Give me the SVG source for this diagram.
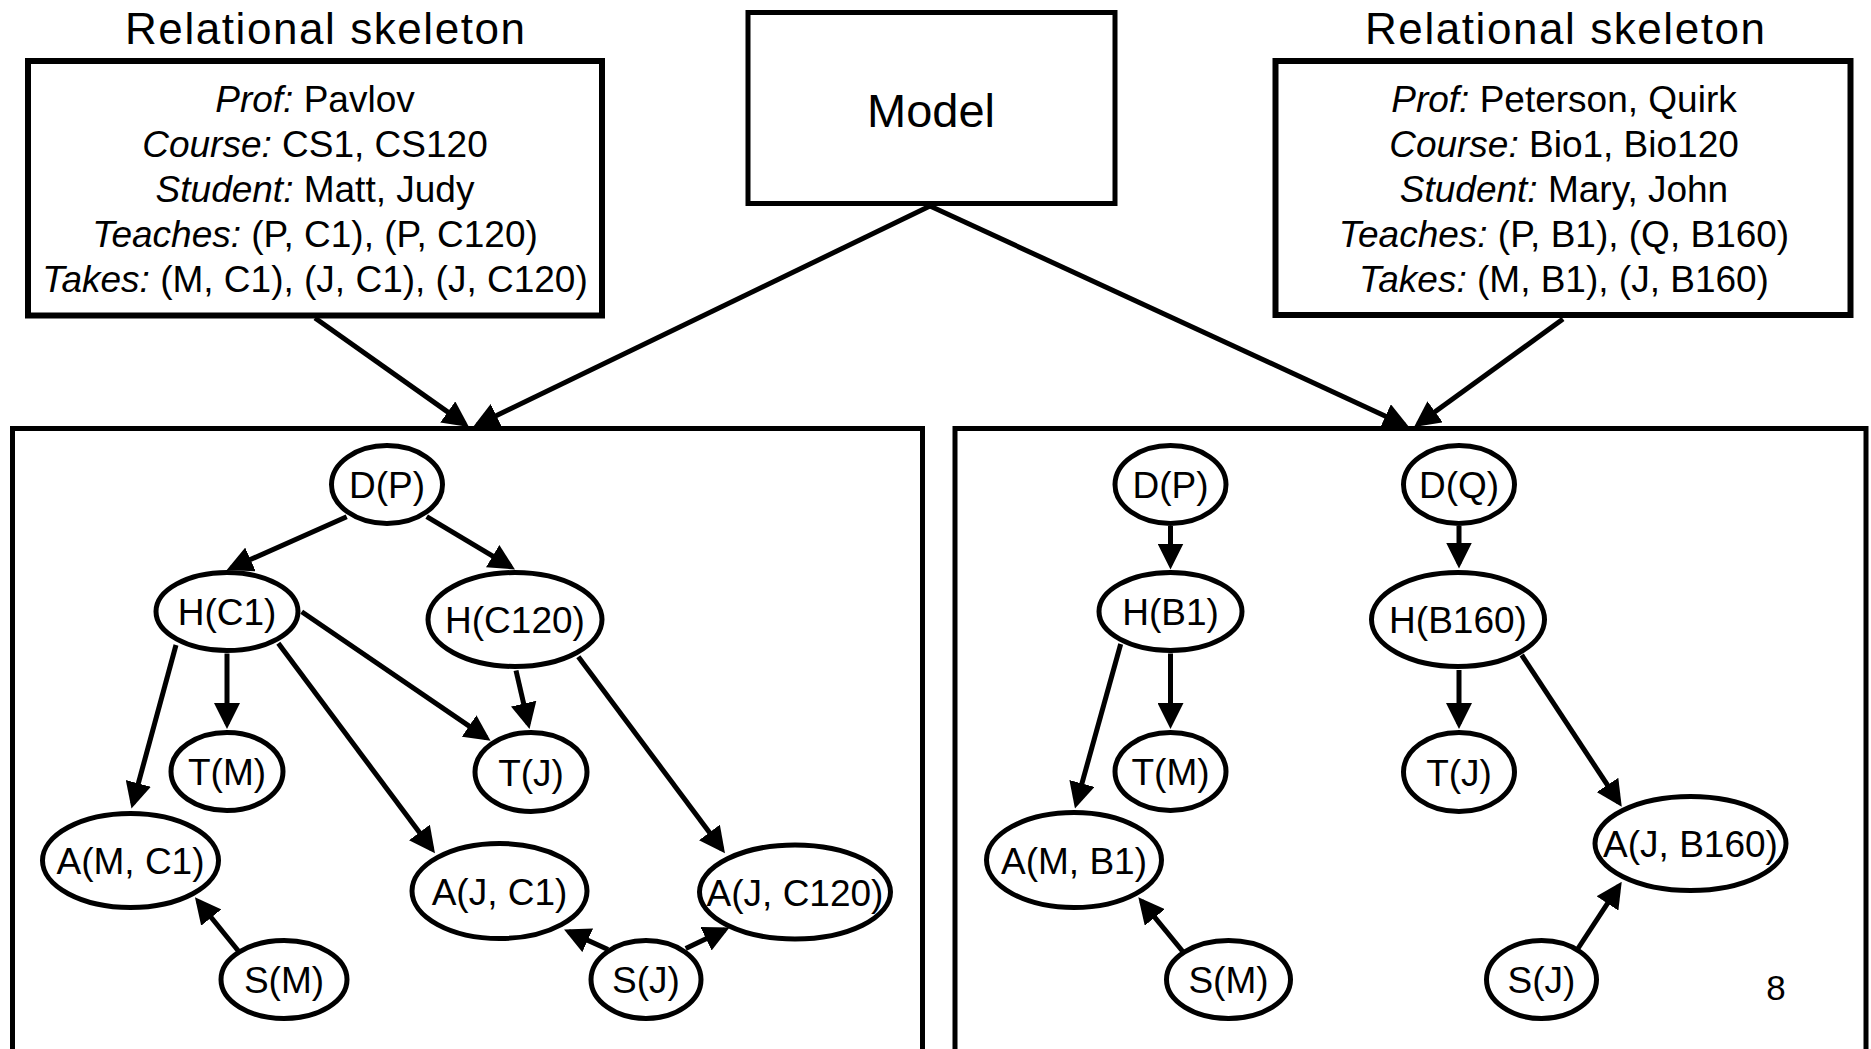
<svg xmlns="http://www.w3.org/2000/svg" width="1871" height="1049" viewBox="0 0 1871 1049">
  <style>
    text { font-family: "Liberation Sans", Arial, sans-serif; fill: #000; }
    .title { font-size: 44px; text-anchor: middle; }
    .model { font-size: 47px; text-anchor: middle; }
    .skel { font-size: 37px; text-anchor: middle; }
    .it { font-style: italic; }
    .lbl { font-size: 37px; text-anchor: middle; }
    .page { font-size: 35px; text-anchor: middle; }
    .box { fill: #fff; stroke: #000; stroke-width: 6; }
    .mbox { fill: #fff; stroke: #000; stroke-width: 5; }
    .panel { fill: none; stroke: #000; stroke-width: 5; }
    .node ellipse { fill: #fff; stroke: #000; stroke-width: 5; }
    .edge { fill: none; stroke: #000; stroke-width: 5; marker-end: url(#head); }
  </style>
  <defs>
    <marker id="head" markerUnits="userSpaceOnUse" markerWidth="26" markerHeight="26" refX="21" refY="13" orient="auto">
      <path d="M0,0 L26,13 L0,26 z" fill="#000"/>
    </marker>
  </defs>

  <rect width="1871" height="1049" fill="#fff"/>

  <!-- headings -->
  <text class="title" x="325" y="44" textLength="400" lengthAdjust="spacing">Relational skeleton</text>
  <text class="title" x="1565" y="44" textLength="400" lengthAdjust="spacing">Relational skeleton</text>

  <!-- connectors -->
  <g id="connectors">
    <!-- into the ground networks -->
    <line class="edge" x1="315" y1="318" x2="464.9" y2="424.1"/>
    <line class="edge" x1="930" y1="206" x2="477.5" y2="424.8"/>
    <line class="edge" x1="930" y1="206" x2="1404.5" y2="424.9"/>
    <line class="edge" x1="1563" y1="319" x2="1418.1" y2="424.1"/>

    <!-- left network -->
    <line class="edge" x1="346.7" y1="516.7" x2="231.3" y2="568"/>
    <line class="edge" x1="426.7" y1="516.7" x2="510.7" y2="566.9"/>
    <line class="edge" x1="227" y1="653.5" x2="227" y2="724"/>
    <line class="edge" x1="176" y1="645" x2="132.8" y2="803.7"/>
    <line class="edge" x1="278.3" y1="643.3" x2="432" y2="849.3"/>
    <line class="edge" x1="301.7" y1="611.7" x2="486.4" y2="737.9"/>
    <line class="edge" x1="516" y1="670.5" x2="528.4" y2="724.1"/>
    <line class="edge" x1="578.3" y1="656.7" x2="722" y2="849.3"/>
    <line class="edge" x1="240" y1="953" x2="198.1" y2="901.2"/>
    <line class="edge" x1="608" y1="949.5" x2="568.6" y2="931.6"/>
    <line class="edge" x1="685.7" y1="948.4" x2="725" y2="929.7"/>

    <!-- right network -->
    <line class="edge" x1="1170.5" y1="526" x2="1170.5" y2="564.5"/>
    <line class="edge" x1="1170.5" y1="653.5" x2="1170.5" y2="724"/>
    <line class="edge" x1="1120.7" y1="644" x2="1076.3" y2="803.7"/>
    <line class="edge" x1="1184" y1="953" x2="1141.5" y2="901.2"/>
    <line class="edge" x1="1459" y1="526" x2="1459" y2="563.5"/>
    <line class="edge" x1="1459" y1="670" x2="1459" y2="724"/>
    <line class="edge" x1="1521.7" y1="655" x2="1619" y2="802.5"/>
    <line class="edge" x1="1577" y1="950" x2="1619" y2="885.9"/>
  </g>

  <!-- relational skeleton boxes -->
  <g id="skeleton-left">
    <rect class="box" x="28" y="61" width="574" height="254.5"/>
    <text class="skel" x="315" y="111.5"><tspan class="it">Prof:</tspan> Pavlov</text>
    <text class="skel" x="315" y="156.5"><tspan class="it">Course:</tspan> CS1, CS120</text>
    <text class="skel" x="315" y="201.5"><tspan class="it">Student:</tspan> Matt, Judy</text>
    <text class="skel" x="315" y="246.5"><tspan class="it">Teaches:</tspan> (P, C1), (P, C120)</text>
    <text class="skel" x="315" y="291.5"><tspan class="it">Takes:</tspan> (M, C1), (J, C1), (J, C120)</text>
  </g>

  <g id="model">
    <rect class="mbox" x="748" y="12.5" width="367" height="191"/>
    <text class="model" x="931" y="126.5">Model</text>
  </g>

  <g id="skeleton-right">
    <rect class="box" x="1275.5" y="61" width="575" height="254"/>
    <text class="skel" x="1564" y="112"><tspan class="it">Prof:</tspan> Peterson, Quirk</text>
    <text class="skel" x="1564" y="157"><tspan class="it">Course:</tspan> Bio1, Bio120</text>
    <text class="skel" x="1564" y="201.5"><tspan class="it">Student:</tspan> Mary, John</text>
    <text class="skel" x="1564" y="246.5"><tspan class="it">Teaches:</tspan> (P, B1), (Q, B160)</text>
    <text class="skel" x="1564" y="291.5"><tspan class="it">Takes:</tspan> (M, B1), (J, B160)</text>
  </g>

  <!-- ground network frames -->
  <g id="network-left">
    <rect class="panel" x="12.5" y="428.5" width="910" height="640"/>
  </g>
  <g id="network-right">
    <rect class="panel" x="955" y="428.5" width="911" height="640"/>
  </g>

  <!-- left network nodes -->
  <g id="l-DP" class="node"><ellipse cx="387" cy="484.5" rx="55.5" ry="39"/><text class="lbl" x="387" y="498">D(P)</text></g>
  <g id="l-HC1" class="node"><ellipse cx="227" cy="611.5" rx="71" ry="39"/><text class="lbl" x="227" y="625">H(C1)</text></g>
  <g id="l-HC120" class="node"><ellipse cx="515" cy="619.5" rx="87" ry="47"/><text class="lbl" x="515" y="633">H(C120)</text></g>
  <g id="l-TM" class="node"><ellipse cx="227" cy="771.5" rx="56" ry="39"/><text class="lbl" x="227" y="785">T(M)</text></g>
  <g id="l-TJ" class="node"><ellipse cx="531" cy="772" rx="56" ry="39.5"/><text class="lbl" x="531" y="785.5">T(J)</text></g>
  <g id="l-AMC1" class="node"><ellipse cx="130.5" cy="860.5" rx="88" ry="47"/><text class="lbl" x="130.5" y="874">A(M, C1)</text></g>
  <g id="l-AJC1" class="node"><ellipse cx="499.5" cy="891" rx="87.5" ry="47.5"/><text class="lbl" x="499.5" y="904.5">A(J, C1)</text></g>
  <g id="l-AJC120" class="node"><ellipse cx="795" cy="892" rx="95.5" ry="47"/><text class="lbl" x="795" y="905.5">A(J, C120)</text></g>
  <g id="l-SM" class="node"><ellipse cx="284" cy="979.5" rx="63" ry="39"/><text class="lbl" x="284" y="993">S(M)</text></g>
  <g id="l-SJ" class="node"><ellipse cx="646" cy="979.5" rx="55" ry="39"/><text class="lbl" x="646" y="993">S(J)</text></g>

  <!-- right network nodes -->
  <g id="r-DP" class="node"><ellipse cx="1170.5" cy="484.5" rx="55.5" ry="39"/><text class="lbl" x="1170.5" y="498">D(P)</text></g>
  <g id="r-DQ" class="node"><ellipse cx="1459" cy="484.5" rx="55.5" ry="39"/><text class="lbl" x="1459" y="498">D(Q)</text></g>
  <g id="r-HB1" class="node"><ellipse cx="1170.5" cy="611.5" rx="71.5" ry="39"/><text class="lbl" x="1170.5" y="625">H(B1)</text></g>
  <g id="r-HB160" class="node"><ellipse cx="1458" cy="619.5" rx="86.5" ry="47"/><text class="lbl" x="1458" y="633">H(B160)</text></g>
  <g id="r-TM" class="node"><ellipse cx="1170.5" cy="771.5" rx="55.5" ry="39"/><text class="lbl" x="1170.5" y="785">T(M)</text></g>
  <g id="r-TJ" class="node"><ellipse cx="1459" cy="772" rx="55.5" ry="39.5"/><text class="lbl" x="1459" y="785.5">T(J)</text></g>
  <g id="r-AMB1" class="node"><ellipse cx="1074" cy="860" rx="87.5" ry="47.5"/><text class="lbl" x="1074" y="873.5">A(M, B1)</text></g>
  <g id="r-AJB160" class="node"><ellipse cx="1690.5" cy="843.5" rx="95.5" ry="47"/><text class="lbl" x="1690.5" y="857">A(J, B160)</text></g>
  <g id="r-SM" class="node"><ellipse cx="1228.5" cy="979.5" rx="62" ry="39"/><text class="lbl" x="1228.5" y="993">S(M)</text></g>
  <g id="r-SJ" class="node"><ellipse cx="1541.5" cy="979.5" rx="55" ry="39"/><text class="lbl" x="1541.5" y="993">S(J)</text></g>

  <!-- slide number -->
  <text class="page" x="1776" y="1000">8</text>
</svg>
